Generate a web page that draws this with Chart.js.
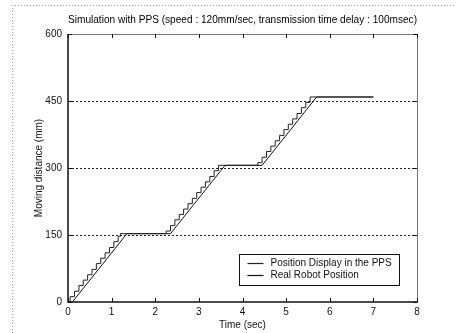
<!DOCTYPE html>
<html>
<head>
<meta charset="utf-8">
<script src="https://cdn.jsdelivr.net/npm/chart.js@4/dist/chart.umd.min.js"></script>
<style>
  html, body { margin: 0; padding: 0; background: #fff; }
  #wrap { width: 456px; height: 333px; }
</style>
</head>
<body>
<div id="wrap"><canvas id="c" width="456" height="333"></canvas></div>
<script>
// Axis ticks
const xTicks = [0, 1, 2, 3, 4, 5, 6, 7, 8];
const yTicks = [0, 150, 300, 450, 600];
const yGridLines = [150, 300, 450];

// Position reported by the PPS (sampled, drawn as a staircase)
const ppsTime = [0, 0.05, 0.15, 0.25, 0.35, 0.45, 0.55, 0.65, 0.75, 0.85, 0.95, 1.05, 1.15, 1.2,
  2.25, 2.35, 2.45, 2.55, 2.65, 2.75, 2.85, 2.95, 3.05, 3.15, 3.25, 3.35, 3.45,
  4.35, 4.45, 4.55, 4.65, 4.75, 4.85, 4.95, 5.05, 5.15, 5.25, 5.35, 5.45, 5.55, 7.0];
const ppsPos = [0, 12, 24, 37, 49, 61, 73, 86, 98, 110, 122, 135, 147, 153,
  159, 171, 184, 196, 208, 220, 232, 245, 257, 269, 281, 294, 306,
  312, 324, 337, 349, 361, 373, 386, 398, 410, 422, 435, 447, 459, 459];

// Actual robot position
const robotTime = [0.1, 1.35, 2.35, 3.6, 4.45, 5.7, 7.0];
const robotPos = [0, 153, 153, 306, 306, 459, 459];

const seriesLabels = ['Position Display in the PPS', 'Real Robot Position'];

const FONT = 'Liberation Sans, Arial, Helvetica, sans-serif';
const INK = '#111';

const toPoints = (xs, ys) => xs.map((x, i) => ({ x, y: ys[i] }));

// Frame, dashed grid, inward ticks and the legend box
const decor = {
  id: 'decor',
  beforeDatasetsDraw(chart) {
    const { ctx, chartArea: a, scales: { x, y } } = chart;
    ctx.save();
    ctx.strokeStyle = '#222';
    ctx.lineWidth = 1;
    ctx.setLineDash([2, 2]);
    yGridLines.forEach(v => {
      const py = Math.round(y.getPixelForValue(v)) + 0.5;
      ctx.beginPath(); ctx.moveTo(a.left, py); ctx.lineTo(a.right, py); ctx.stroke();
    });
    ctx.restore();
  },
  afterDatasetsDraw(chart) {
    const { ctx, chartArea: a, scales: { x, y } } = chart;
    ctx.save();
    // outer dotted figure border
    ctx.strokeStyle = '#9a9a9a';
    ctx.lineWidth = 1;
    ctx.setLineDash([1, 2]);
    ctx.beginPath();
    ctx.moveTo(12.5, 333); ctx.lineTo(12.5, 5.5); ctx.lineTo(456, 5.5);
    ctx.stroke();
    ctx.setLineDash([]);

    // axes box
    ctx.strokeStyle = '#777';
    ctx.lineWidth = 1;
    ctx.beginPath();
    ctx.moveTo(a.left, a.top + 0.5); ctx.lineTo(a.right + 0.5, a.top + 0.5);
    ctx.lineTo(a.right + 0.5, a.bottom);
    ctx.stroke();
    ctx.strokeStyle = INK;
    ctx.lineWidth = 1.5;
    ctx.beginPath();
    ctx.moveTo(a.left, a.top); ctx.lineTo(a.left, a.bottom); ctx.lineTo(a.right + 1, a.bottom);
    ctx.stroke();

    // inward tick marks
    ctx.lineWidth = 1;
    ctx.strokeStyle = INK;
    const tl = 4;
    xTicks.forEach(v => {
      const px = Math.round(x.getPixelForValue(v)) + 0.5;
      ctx.beginPath();
      ctx.moveTo(px, a.bottom); ctx.lineTo(px, a.bottom - tl);
      ctx.moveTo(px, a.top); ctx.lineTo(px, a.top + tl);
      ctx.stroke();
    });
    yTicks.forEach(v => {
      const py = Math.round(y.getPixelForValue(v)) + 0.5;
      ctx.beginPath();
      ctx.moveTo(a.left, py); ctx.lineTo(a.left + tl, py);
      ctx.moveTo(a.right, py); ctx.lineTo(a.right - tl, py);
      ctx.stroke();
    });

    // legend
    const bx = Math.round(x.getPixelForValue(3.92)) + 0.5;
    const bw = 160, bh = 31;
    const by = Math.round(y.getPixelForValue(0)) - 47.5;
    ctx.fillStyle = '#fff';
    ctx.fillRect(bx, by, bw, bh);
    ctx.strokeStyle = INK;
    ctx.strokeRect(bx, by, bw, bh);
    ctx.font = '10px ' + FONT;
    ctx.textBaseline = 'middle';
    ctx.fillStyle = INK;
    chart.data.datasets.forEach((ds, i) => {
      const ly = by + 9 + i * 12;
      ctx.strokeStyle = ds.borderColor;
      ctx.lineWidth = 1.2;
      ctx.beginPath(); ctx.moveTo(bx + 8, ly); ctx.lineTo(bx + 24, ly); ctx.stroke();
      ctx.fillText(ds.label, bx + 31, ly);
    });
    ctx.restore();
  }
};

new Chart(document.getElementById('c'), {
  type: 'line',
  data: {
    datasets: [
      {
        label: seriesLabels[0],
        data: toPoints(ppsTime, ppsPos),
        stepped: true,
        borderColor: '#222',
        borderWidth: 1,
        pointRadius: 0,
        fill: false
      },
      {
        label: seriesLabels[1],
        data: toPoints(robotTime, robotPos),
        borderColor: '#111',
        borderWidth: 1,
        pointRadius: 0,
        tension: 0,
        fill: false
      }
    ]
  },
  options: {
    responsive: false,
    animation: false,
    layout: { padding: { left: 0, right: 39, top: 0, bottom: 0 } },
    plugins: {
      legend: { display: false },
      tooltip: { enabled: false },
      title: {
        display: true,
        fullSize: false,
        text: 'Simulation with PPS (speed : 120mm/sec, transmission time delay : 100msec)',
        color: '#000',
        font: { family: FONT, size: 10.5, weight: 'normal', lineHeight: 1.2 },
        padding: { top: 14, bottom: 7.4 }
      }
    },
    scales: {
      x: {
        type: 'linear',
        min: 0, max: 8,
        afterBuildTicks: s => { s.ticks = xTicks.map(v => ({ value: v })); },
        afterFit: s => { s.height = 31; },
        grid: { display: false, drawTicks: false },
        border: { display: false },
        ticks: { color: INK, padding: 4, font: { family: FONT, size: 10 } },
        title: {
          display: true, text: 'Time (sec)', color: INK,
          font: { family: FONT, size: 10 }, padding: { top: 0, bottom: 2 }
        }
      },
      y: {
        type: 'linear',
        min: 0, max: 600,
        afterBuildTicks: s => { s.ticks = yTicks.map(v => ({ value: v })); },
        afterFit: s => { s.width = 68; },
        grid: { display: false, drawTicks: false },
        border: { display: false },
        ticks: { color: INK, padding: 6, font: { family: FONT, size: 10 } },
        title: {
          display: true, text: 'Moving distance (mm)', color: INK,
          font: { family: FONT, size: 10 }, padding: { top: 33, bottom: 0 }
        }
      }
    }
  },
  plugins: [decor]
});
</script>
</body>
</html>
